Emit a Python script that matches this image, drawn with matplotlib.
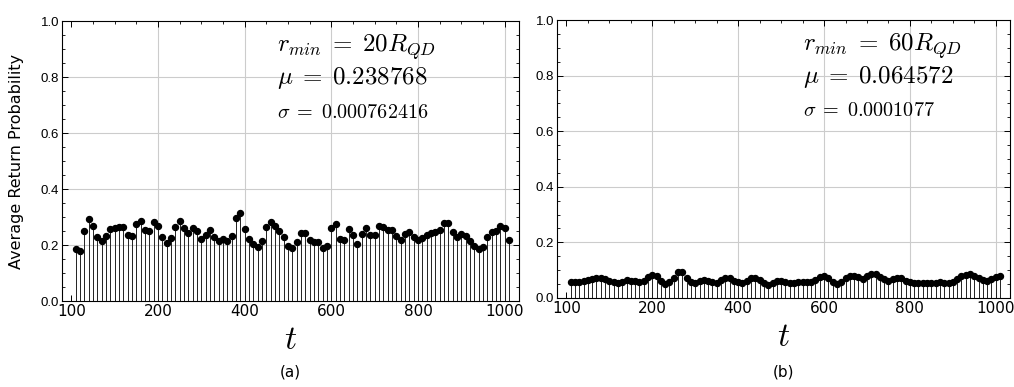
import numpy as np
import matplotlib
matplotlib.use('Agg')
import matplotlib.pyplot as plt
from matplotlib.ticker import MultipleLocator

plt.rcParams['mathtext.fontset'] = 'cm'

# time steps (10 .. 1010), tick labels as printed in the figure
t = np.arange(10, 1020, 10)
xticks = [0, 200, 400, 600, 800, 1000]
xticklabels = ['100', '200', '400', '600', '800', '1000']

# panel (a): r_min = 20 R_QD
prob_a = [0.186, 0.180, 0.251, 0.293, 0.269, 0.227, 0.213, 0.233, 0.257, 0.261,
          0.263, 0.263, 0.236, 0.233, 0.275, 0.287, 0.254, 0.251, 0.281, 0.269,
          0.227, 0.207, 0.224, 0.265, 0.287, 0.261, 0.243, 0.261, 0.249, 0.221,
          0.236, 0.254, 0.227, 0.215, 0.221, 0.213, 0.233, 0.296, 0.313, 0.257,
          0.221, 0.204, 0.192, 0.215, 0.263, 0.281, 0.268, 0.251, 0.227, 0.198,
          0.188, 0.212, 0.243, 0.243, 0.218, 0.210, 0.210, 0.190, 0.198, 0.260,
          0.275, 0.221, 0.219, 0.257, 0.236, 0.204, 0.240, 0.260, 0.236, 0.236,
          0.268, 0.263, 0.255, 0.254, 0.233, 0.219, 0.240, 0.248, 0.230, 0.218,
          0.225, 0.236, 0.242, 0.245, 0.254, 0.279, 0.279, 0.245, 0.230, 0.240,
          0.233, 0.213, 0.198, 0.186, 0.192, 0.230, 0.248, 0.251, 0.269, 0.260,
          0.218]

# panel (b): r_min = 60 R_QD
prob_b = [0.059, 0.056, 0.059, 0.062, 0.066, 0.068, 0.071, 0.072, 0.068, 0.062,
          0.056, 0.054, 0.059, 0.065, 0.062, 0.060, 0.056, 0.062, 0.074, 0.083,
          0.080, 0.062, 0.050, 0.056, 0.072, 0.092, 0.092, 0.072, 0.056, 0.054,
          0.060, 0.066, 0.061, 0.056, 0.054, 0.066, 0.072, 0.071, 0.062, 0.056,
          0.053, 0.060, 0.071, 0.072, 0.066, 0.054, 0.048, 0.054, 0.060, 0.062,
          0.056,
          0.053, 0.054, 0.056, 0.056, 0.056, 0.059, 0.066, 0.074, 0.080, 0.071,
          0.056, 0.050, 0.056, 0.071, 0.080, 0.080, 0.074, 0.068, 0.080, 0.086,
          0.086, 0.077, 0.068, 0.062, 0.068, 0.072, 0.072, 0.062, 0.056, 0.054,
          0.054, 0.054, 0.054, 0.054, 0.054, 0.056, 0.054, 0.054, 0.056, 0.068,
          0.078, 0.084, 0.086, 0.080, 0.071, 0.065, 0.062, 0.068, 0.074, 0.078]

labels = [[r'$r_{min}\;=\;20R_{QD}$', r'$\mu\;=\;0.238768$', r'$\sigma\;=\;0.000762416$'],
          [r'$r_{min}\;=\;60R_{QD}$', r'$\mu\;=\;0.064572$', r'$\sigma\;=\;0.0001077$']]
panels = ['(a)', '(b)']
text_x = [0.47, 0.543]

fig = plt.figure(figsize=(10.14, 3.87), dpi=100)
ax1 = fig.add_axes([0.0611, 0.2222, 0.4507, 0.7235])
ax2 = fig.add_axes([0.5493, 0.2300, 0.4467, 0.7183])

for ax, y, lab, pan, tx in zip([ax1, ax2], [prob_a, prob_b], labels, panels, text_x):
    for g in [200, 400, 600, 800, 1000]:
        ax.axvline(g, color='#cccccc', lw=0.8, zorder=0)
    for g in [0.2, 0.4, 0.6, 0.8]:
        ax.axhline(g, color='#cccccc', lw=0.8, zorder=0)
    ax.vlines(t, 0, y, color='#222222', lw=0.7, zorder=2)
    ax.plot(t, y, 'o', color='black', ms=4.3, zorder=3)
    ax.set_xlim(-22, 1033)
    ax.set_ylim(0, 1)
    ax.set_xticks(xticks)
    ax.set_xticklabels(xticklabels, fontsize=11, family='DejaVu Sans')
    ax.set_yticks([0, 0.2, 0.4, 0.6, 0.8, 1.0])
    ax.set_yticklabels(['0.0', '0.2', '0.4', '0.6', '0.8', '1.0'], fontsize=9.5, family='Liberation Sans')
    ax.xaxis.set_minor_locator(MultipleLocator(50))
    ax.yaxis.set_minor_locator(MultipleLocator(0.05))
    ax.tick_params(which='both', direction='in', top=True, right=True)
    ax.tick_params(which='major', length=4, width=0.7, pad=2)
    ax.tick_params(which='minor', length=2, width=0.6)
    for s in ax.spines.values():
        s.set_linewidth(0.8)
    ax.set_xlabel(r'$t$', fontsize=24, labelpad=3)
    x0, x1 = ax.get_position().x0, ax.get_position().x1
    fig.text((x0 + x1) / 2, 0.039, pan, ha='center', va='center',
             fontsize=11, family='DejaVu Sans')
    ax.text(tx, 0.905, lab[0], transform=ax.transAxes, fontsize=18, va='center')
    ax.text(tx, 0.795, lab[1], transform=ax.transAxes, fontsize=18, va='center')
    ax.text(tx, 0.675, lab[2], transform=ax.transAxes, fontsize=14.5, va='center')

ax1.set_ylabel('Average Return Probability', fontsize=11.5, family='DejaVu Sans', labelpad=12)

plt.savefig('out.png', dpi=100)
